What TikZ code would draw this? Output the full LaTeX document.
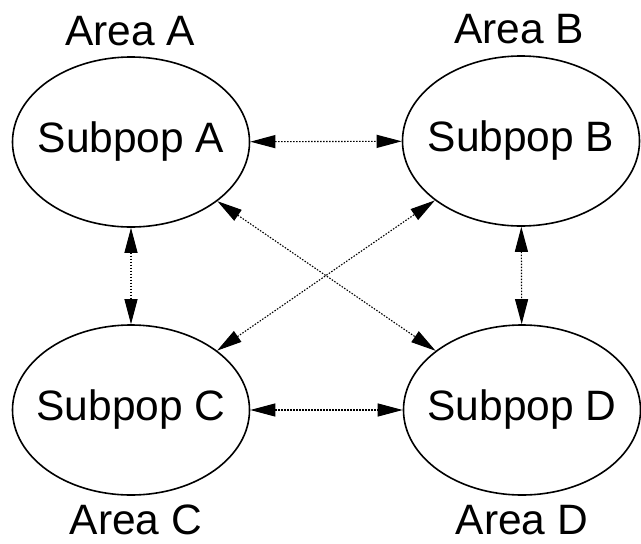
\documentclass[tikz,border=0pt]{standalone}
\usepackage{fontspec}
\setmainfont{Liberation Sans}
\usetikzlibrary{shapes.geometric,arrows.meta,positioning}
\tikzset{
    subpop/.style={ellipse, draw=black, line width=1.6pt, minimum width=237pt, minimum height=170pt, inner sep=0pt,
        label={[font=\fontsize{42.5}{50}\selectfont]center:#1}},
    arealabel/.style={anchor=base, inner sep=0pt, font=\fontsize{42.5}{50}\selectfont},
    migr/.style={{Triangle[length=25pt,width=13pt]}-{Triangle[length=25pt,width=13pt]}, line width=1.1pt, dash pattern=on 1.5pt off 1.5pt},
}
\begin{document}
\begin{tikzpicture}[x=1pt,y=-1pt]
    \useasboundingbox (0,0) rectangle (641,544);

    % subpopulations
    \node[subpop=Subpop A] (a) at (131,142) {};
    \node[subpop=Subpop B] (b) at (521,141) {};
    \node[subpop=Subpop C] (c) at (131,410) {};
    \node[subpop=Subpop D] (d) at (522,410) {};

    % areas
    \node[arealabel] (la) at (130,45) {Area A};
    \node[arealabel] (lb) at (519,43) {Area B};
    \node[arealabel] (lc) at (136,534) {Area C};
    \node[arealabel] (ld) at (522,534) {Area D};

    % migration
    \draw[migr] (a) -- (b);
    \draw[migr] (c) -- (d);
    \draw[migr] (a) -- (c);
    \draw[migr] (b) -- (d);
    \draw[migr] (a) -- (d);
    \draw[migr] (c) -- (b);
\end{tikzpicture}
\end{document}
